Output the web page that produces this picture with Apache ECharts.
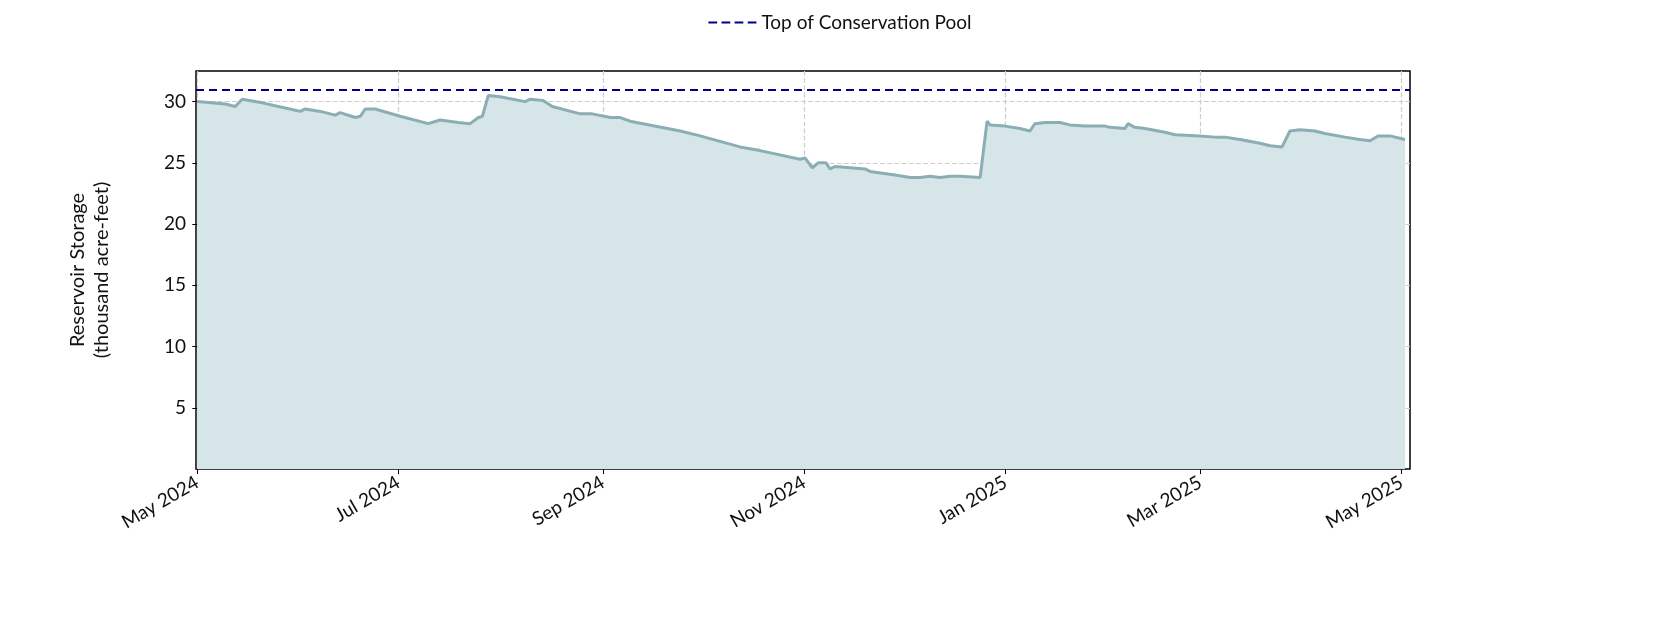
<!DOCTYPE html>
<html><head><meta charset="utf-8">
<script src="https://cdn.jsdelivr.net/npm/echarts@6/dist/echarts.min.js"></script>
<style>html,body{margin:0;padding:0;background:#fff}#c{width:1680px;height:630px}</style>
</head><body><div id="c"></div>
<script>
// days since 2024-05-01
const dayOffsets = [0,8.5,11.5,13.6,19.7,29.7,31.2,32.7,37.3,41.8,43.3,47.9,49.4,50.9,53.9,61.5,70,73.6,79.1,82.7,85.2,86.4,88.2,91.8,99.4,100.9,104.8,107.6,116.1,119.7,125.2,128.2,131.2,146.4,152.4,164.5,170.6,182.7,184.2,186.4,188.2,190.6,191.8,193.3,197.9,202.4,203.9,211.5,216.1,219.1,222.1,225.2,228.2,231.2,237.3,239.4,240.3,244.8,249.4,252.4,253.9,257,261.5,264.5,269.1,275.2,276.7,281.2,282.1,284.2,287.3,293.3,296.4,303.9,308.5,311.5,316.1,322.1,325.2,328.8,331.2,334.2,338.8,341.8,347.9,352.4,355.5,357.9,361.5,366.1];
const storage = [30.0,29.8,29.6,30.2,29.9,29.3,29.2,29.4,29.2,28.9,29.1,28.7,28.8,29.4,29.4,28.8,28.2,28.5,28.3,28.2,28.7,28.8,30.5,30.4,30.0,30.2,30.1,29.6,29.0,29.0,28.7,28.7,28.4,27.6,27.2,26.3,26.0,25.3,25.4,24.6,25.0,25.0,24.5,24.7,24.6,24.5,24.3,24.0,23.8,23.8,23.9,23.8,23.9,23.9,23.8,28.4,28.1,28.0,27.8,27.6,28.2,28.3,28.3,28.1,28.0,28.0,27.9,27.8,28.2,27.9,27.8,27.5,27.3,27.2,27.1,27.1,26.9,26.6,26.4,26.3,27.6,27.7,27.6,27.4,27.1,26.9,26.8,27.2,27.2,26.9];
const conservationPool = 31.0;
const tickDates = ['2024-05-01','2024-07-01','2024-09-01','2024-11-01','2025-01-01','2025-03-01','2025-05-01'];
const yTicks = [5,10,15,20,25,30];
const monthNames = ['Jan','Feb','Mar','Apr','May','Jun','Jul','Aug','Sep','Oct','Nov','Dec'];

const base = Date.UTC(2024,4,1);
const DAY = 86400000;
const series = dayOffsets.map((d,i)=>[d, storage[i]]);
const tickDays = tickDates.map(s=>Math.round((Date.parse(s+'T00:00:00Z')-base)/DAY));
const font = 'Lato';
const chart = echarts.init(document.getElementById('c'));
chart.setOption({
  animation:false,
  textStyle:{fontFamily:font},
  legend:{top:8,left:'center',itemWidth:48,itemHeight:10,textStyle:{fontSize:19,color:'#111',fontFamily:font},
    data:[{name:'Top of Conservation Pool',icon:'path://M0,4h8v2h-8zM12,4h8v2h-8zM24,4h8v2h-8zM36,4h8v2h-8z'}]},
  grid:{left:196,right:270,top:71,bottom:161,show:true,borderColor:'#000',borderWidth:1.5,backgroundColor:'transparent'},
  xAxis:{type:'value',min:-0.4,max:367.6,
    axisLine:{show:false},
    axisTick:{show:true,customValues:tickDays,length:5,lineStyle:{color:'#000'}},
    axisLabel:{customValues:tickDays,rotate:30,fontSize:19,color:'#111',margin:12,fontFamily:font,
      formatter:v=>{const d=new Date(base+v*DAY);return monthNames[d.getUTCMonth()]+' '+d.getUTCFullYear();}},
    splitLine:{show:true,lineStyle:{type:'dashed',color:'#cccccc',width:1.2}}},
  yAxis:{type:'value',min:0,max:32.5,
    name:'Reservoir Storage\n(thousand acre-feet)',nameLocation:'middle',nameGap:82,nameRotate:90,
    nameTextStyle:{fontSize:20,color:'#111',lineHeight:24,fontFamily:font},
    axisLine:{show:false},
    axisTick:{show:true,customValues:yTicks,length:5,lineStyle:{color:'#000'}},
    axisLabel:{customValues:yTicks,fontSize:19,color:'#111',margin:10,fontFamily:font},
    splitLine:{show:true,lineStyle:{type:'dashed',color:'#cccccc',width:1.2}}},
  series:[
    {name:'Storage',type:'line',data:series,showSymbol:false,smooth:false,
      lineStyle:{color:'#8aaeb3',width:3},areaStyle:{color:'#d6e5e7',opacity:1},z:2},
    {name:'Top of Conservation Pool',type:'line',data:[],
      lineStyle:{color:'#00008b',type:'dashed',width:2},itemStyle:{color:'#00008b'},
      markLine:{symbol:'none',silent:true,label:{show:false},
        lineStyle:{color:'#00008b',type:[8,5],width:2},data:[{yAxis:conservationPool}]}}
  ]
});
</script></body></html>
